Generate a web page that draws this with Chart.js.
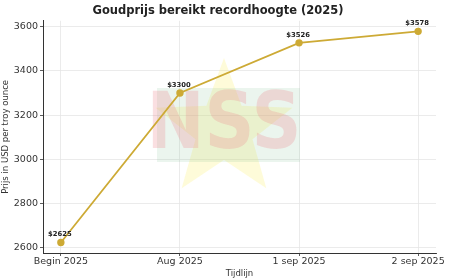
<!DOCTYPE html>
<html>
<head>
    <title>Goudprijs bereikt recordhoogte (2025)</title>
    <script src="https://cdn.jsdelivr.net/npm/chart.js"></script>
    <style>
        html, body { margin: 0; padding: 0; background: #fff; }
        #wrap { width: 450px; height: 280px; }
    </style>
</head>
<body>
    <div id="wrap"><canvas id="goldChart" width="450" height="280"></canvas></div>
    <script>
        const periods = ['Begin 2025', 'Aug 2025', '1 sep 2025', '2 sep 2025'];
        const prices = [2625, 3300, 3526, 3578];
        const yTicks = [2600, 2800, 3000, 3200, 3400, 3600];

        const gold = '#cdaa35';
        const fontFamily = '"DejaVu Sans", sans-serif';

        // faint NSS logo in the background (star, green band, pink letters)
        const watermark = {
            id: 'watermark',
            beforeDatasetsDraw(chart) {
                const ctx = chart.ctx;
                ctx.save();
                ctx.beginPath();
                for (let i = 0; i < 10; i++) {
                    const r = i % 2 === 0 ? 72 : 30;
                    const a = -Math.PI / 2 + i * Math.PI / 5;
                    const px = 224 + r * Math.cos(a), py = 130 + r * Math.sin(a);
                    if (i === 0) ctx.moveTo(px, py); else ctx.lineTo(px, py);
                }
                ctx.closePath();
                ctx.fillStyle = 'rgba(250, 238, 110, 0.26)';
                ctx.fill();
                ctx.fillStyle = 'rgba(120, 190, 140, 0.15)';
                ctx.fillRect(157, 88, 143, 74);
                ctx.translate(224, 128);
                ctx.scale(0.89, 1);
                ctx.font = 'bold 78px "DejaVu Sans", sans-serif';
                ctx.textAlign = 'center';
                ctx.textBaseline = 'middle';
                ctx.fillStyle = 'rgba(236, 130, 140, 0.26)';
                ctx.fillText('NSS', 0, 0);
                ctx.restore();
            }
        };

        const pointLabels = {
            id: 'pointLabels',
            afterDatasetsDraw(chart) {
                const ctx = chart.ctx;
                const meta = chart.getDatasetMeta(0);
                ctx.save();
                ctx.font = 'bold 6.8px ' + fontFamily;
                ctx.fillStyle = '#222';
                ctx.textAlign = 'center';
                ctx.textBaseline = 'middle';
                meta.data.forEach((pt, i) => {
                    ctx.fillText('$' + prices[i], pt.x - 1, pt.y - 8);
                });
                ctx.restore();
            }
        };

        const ctx = document.getElementById('goldChart').getContext('2d');
        new Chart(ctx, {
            type: 'line',
            data: {
                datasets: [{
                    data: prices.map((v, i) => ({ x: i, y: v })),
                    borderColor: gold,
                    backgroundColor: gold,
                    borderWidth: 1.8,
                    pointRadius: 2.8,
                    pointHoverRadius: 2.8,
                    fill: false,
                    tension: 0
                }]
            },
            options: {
                responsive: false,
                animation: false,
                layout: { padding: { left: 0, right: 14, top: 0, bottom: 0 } },
                plugins: {
                    legend: { display: false },
                    tooltip: { enabled: false },
                    title: {
                        display: true,
                        text: 'Goudprijs bereikt recordhoogte (2025)',
                        color: '#222',
                        font: { family: fontFamily, size: 11.5, weight: 'bold', lineHeight: 1.2 },
                        padding: { top: 4, bottom: 3 }
                    }
                },
                scales: {
                    x: {
                        type: 'linear',
                        min: -0.15,
                        max: 3.15,
                        afterBuildTicks: s => { s.ticks = periods.map((p, i) => ({ value: i })); },
                        afterFit: s => { s.height = 27; },
                        ticks: {
                            callback: v => periods[v],
                            color: '#333',
                            font: { family: fontFamily, size: 9.5 },
                            padding: 0,
                            maxRotation: 0,
                            autoSkip: false
                        },
                        grid: { color: '#e6e6e6', lineWidth: 0.8, tickLength: 3, tickColor: '#333' },
                        border: { color: '#333', width: 1 },
                        title: {
                            display: true,
                            text: 'Tijdlijn',
                            color: '#333',
                            font: { family: fontFamily, size: 8.5 },
                            padding: 1
                        }
                    },
                    y: {
                        min: 2577.35,
                        max: 3625.65,
                        afterBuildTicks: s => { s.ticks = yTicks.map(v => ({ value: v })); },
                        afterFit: s => { s.width = 43; },
                        ticks: {
                            callback: v => String(v),
                            color: '#333',
                            font: { family: fontFamily, size: 9.5 },
                            padding: 2
                        },
                        grid: { color: '#e6e6e6', lineWidth: 0.8, tickLength: 3, tickColor: '#333' },
                        border: { color: '#333', width: 1 },
                        title: {
                            display: true,
                            text: 'Prijs in USD per troy ounce',
                            color: '#333',
                            font: { family: fontFamily, size: 8.5 },
                            padding: 1
                        }
                    }
                }
            },
            plugins: [watermark, pointLabels]
        });
    </script>
</body>
</html>
